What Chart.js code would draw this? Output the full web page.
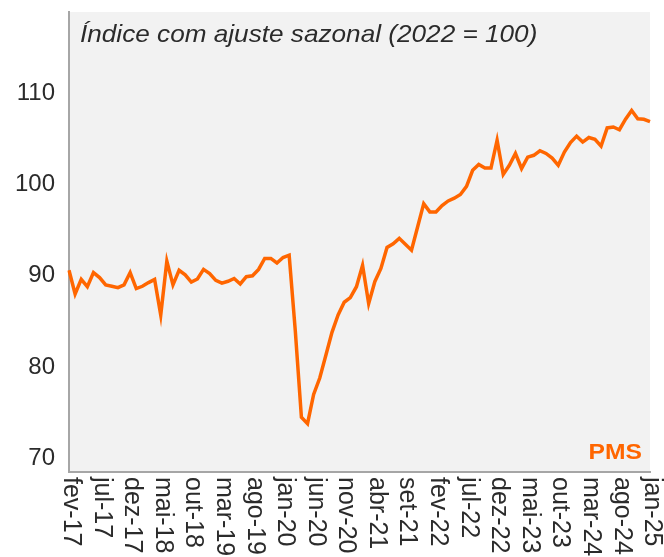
<!DOCTYPE html>
<html>
<head>
<meta charset="utf-8">
<script src="https://cdn.jsdelivr.net/npm/chart.js@4"></script>
<style>
  html, body { margin: 0; padding: 0; background: #fff; }
  #wrap { width: 664px; height: 557px; }
</style>
</head>
<body>
<div id="wrap"><canvas id="pmsChart" width="664" height="557"></canvas></div>
<script>
// meses (fev-17 .. jan-25)
const months = [
  'fev-17','mar-17','abr-17','mai-17','jun-17','jul-17','ago-17','set-17','out-17','nov-17','dez-17',
  'jan-18','fev-18','mar-18','abr-18','mai-18','jun-18','jul-18','ago-18','set-18','out-18','nov-18','dez-18',
  'jan-19','fev-19','mar-19','abr-19','mai-19','jun-19','jul-19','ago-19','set-19','out-19','nov-19','dez-19',
  'jan-20','fev-20','mar-20','abr-20','mai-20','jun-20','jul-20','ago-20','set-20','out-20','nov-20','dez-20',
  'jan-21','fev-21','mar-21','abr-21','mai-21','jun-21','jul-21','ago-21','set-21','out-21','nov-21','dez-21',
  'jan-22','fev-22','mar-22','abr-22','mai-22','jun-22','jul-22','ago-22','set-22','out-22','nov-22','dez-22',
  'jan-23','fev-23','mar-23','abr-23','mai-23','jun-23','jul-23','ago-23','set-23','out-23','nov-23','dez-23',
  'jan-24','fev-24','mar-24','abr-24','mai-24','jun-24','jul-24','ago-24','set-24','out-24','nov-24','dez-24',
  'jan-25'
];

// índice PMS com ajuste sazonal (2022 = 100)
const pms = [
  90.6, 88.0, 89.6, 88.8, 90.35, 89.8, 89.0, 88.85, 88.7, 89.0, 90.35,
  88.6, 88.85, 89.25, 89.6, 85.7, 91.6, 89.0, 90.6, 90.1, 89.3, 89.65, 90.7,
  90.25, 89.5, 89.2, 89.4, 89.7, 89.1, 89.9, 90.0, 90.7, 91.9, 91.9, 91.4,
  92.0, 92.25, 84.0, 74.5, 73.8, 77.0, 78.8, 81.3, 83.8, 85.7, 87.1, 87.6,
  88.8, 91.15, 86.95, 89.35, 90.8, 93.1, 93.5, 94.1, 93.45, 92.8, 95.35, 97.9,
  97.0, 97.0, 97.7, 98.2, 98.5, 98.9, 99.8, 101.55, 102.2, 101.8, 101.8, 104.85,
  101.1, 102.1, 103.4, 101.75, 103.0, 103.2, 103.7, 103.4, 102.9, 102.1, 103.55, 104.6,
  105.3, 104.65, 105.15, 104.95, 104.2, 106.2, 106.3, 106.0, 107.15, 108.1, 107.2, 107.15,
  106.9
];

const yTicks = [70, 80, 90, 100, 110];
const titleText = 'Índice com ajuste sazonal (2022 = 100)';
const seriesName = 'PMS';

const ORANGE = '#ff6600';
const AXIS_GRAY = '#a6a6a6';
const TEXT = '#2b2b2b';
const FONT = "'Liberation Sans', Arial, sans-serif";

const plotBackground = {
    id: 'plotBackground',
    beforeDraw(chart) {
        const { ctx, chartArea: a } = chart;
        ctx.save();
        ctx.fillStyle = '#f2f2f2';
        ctx.fillRect(a.left, a.top, a.right - a.left, a.bottom - a.top);
        ctx.restore();
    }
};

const extraText = {
    id: 'extraText',
    afterDraw(chart) {
        const { ctx, chartArea: a } = chart;
        const xScale = chart.scales.x;
        ctx.save();

        // titulo dentro da area (um pouco esticado na horizontal, como no original)
        ctx.save();
        ctx.fillStyle = TEXT;
        ctx.font = 'italic 24px ' + FONT;
        ctx.textAlign = 'left';
        ctx.textBaseline = 'alphabetic';
        ctx.translate(a.left + 11, 42);
        ctx.scale(1.09, 1);
        ctx.fillText(titleText, 0, 0);
        ctx.restore();

        // rotulo da serie
        ctx.save();
        ctx.fillStyle = ORANGE;
        ctx.font = 'bold 22px ' + FONT;
        ctx.textAlign = 'right';
        ctx.translate(a.right - 8, a.bottom - 13);
        ctx.scale(1.12, 1);
        ctx.fillText(seriesName, 0, 0);
        ctx.restore();

        // rotulos do eixo x, girados para baixo
        ctx.fillStyle = TEXT;
        ctx.font = '25px ' + FONT;
        ctx.textAlign = 'left';
        ctx.textBaseline = 'middle';
        months.forEach((m, i) => {
            if (i % 5 !== 0) return;
            const x = xScale.getPixelForValue(i);
            ctx.save();
            ctx.translate(x + 2, a.bottom + 5);
            ctx.rotate(Math.PI / 2);
            ctx.fillText(m, 0, 0);
            ctx.restore();
        });
        ctx.restore();
    }
};

new Chart(document.getElementById('pmsChart'), {
    type: 'line',
    data: {
        labels: months,
        datasets: [{
            label: seriesName,
            data: pms,
            borderColor: ORANGE,
            borderWidth: 3.5,
            pointRadius: 0,
            fill: false,
            tension: 0
        }]
    },
    options: {
        responsive: false,
        animation: false,
        layout: { padding: { top: 12, right: 14, left: 0, bottom: 0 } },
        plugins: {
            legend: { display: false },
            tooltip: { enabled: false }
        },
        scales: {
            x: {
                offset: false,
                grid: { display: false },
                border: { display: true, color: AXIS_GRAY, width: 2 },
                ticks: { display: false },
                afterFit(scale) {
                    scale.height = 85;
                    scale.paddingLeft = 0;
                    scale.paddingRight = 0;
                }
            },
            y: {
                min: 68.5,
                max: 118.9,
                grid: { display: false, drawTicks: false },
                border: { display: true, color: AXIS_GRAY, width: 2 },
                ticks: {
                    color: TEXT,
                    font: { family: FONT, size: 24 },
                    padding: 14
                },
                afterBuildTicks(scale) {
                    scale.ticks = yTicks.map(v => ({ value: v }));
                },
                afterFit(scale) {
                    scale.width = 69;
                    scale.paddingTop = 0;
                    scale.paddingBottom = 0;
                }
            }
        }
    },
    plugins: [plotBackground, extraText]
});
</script>
</body>
</html>
